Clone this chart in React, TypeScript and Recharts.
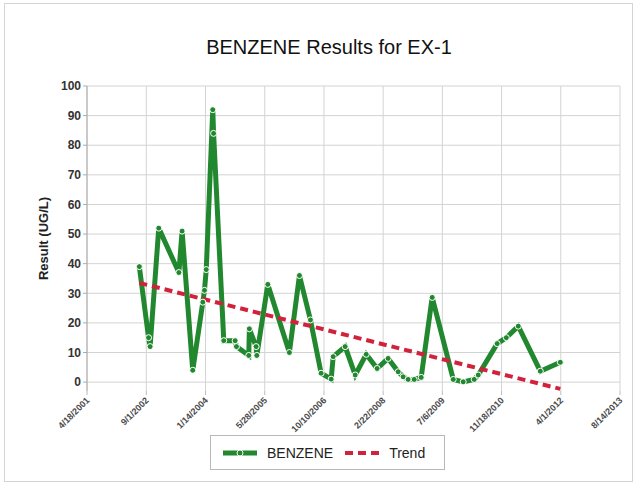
import { LineChart, Line, XAxis, YAxis, CartesianGrid } from 'recharts';

const sampleDates = [
  '7/4/2002', '9/20/2002', '10/3/2002', '12/15/2002', '6/3/2003', '6/30/2003', '9/28/2003',
  '12/22/2003', '1/5/2004', '1/20/2004', '3/15/2004', '3/22/2004', '6/16/2004', '9/20/2004',
  '10/1/2004', '1/13/2005', '1/18/2005', '3/16/2005', '3/22/2005', '6/23/2005', '12/22/2005',
  '3/17/2006', '6/18/2006', '9/16/2006', '12/10/2006', '12/27/2006', '4/7/2007', '7/1/2007',
  '10/2/2007', '1/2/2008', '4/4/2008', '6/28/2008', '8/9/2008', '9/20/2008', '11/10/2008',
  '1/8/2009', '4/11/2009', '10/6/2009', '12/29/2009', '4/1/2010', '5/5/2010', '10/12/2010',
  '12/28/2010', '4/8/2011', '10/11/2011', '3/28/2012',
];
const benzene = [
  39, 15, 12, 52, 37, 51, 4,
  27, 31, 38, 92, 84, 14, 14,
  12, 9, 18, 12, 9, 33, 10,
  36, 21, 3, 1, 8.6, 12, 2.4,
  9.4, 4.6, 8, 3.5, 1.8, 0.9, 0.9,
  1.6, 28.6, 0.9, 0.1, 0.9, 2.4, 13,
  15, 18.9, 3.7, 6.7,
];
const trendDates = ['7/4/2002', '3/28/2012'];
const trendValues = [33.5, -2.3];

const xTickLabels = [
  '4/18/2001', '9/1/2002', '1/14/2004', '5/28/2005', '10/10/2006',
  '2/22/2008', '7/6/2009', '11/18/2010', '4/1/2012', '8/14/2013',
];
const yTicks = [0, 10, 20, 30, 40, 50, 60, 70, 80, 90, 100];

const GREEN = '#22882f';
const RED = '#d2213d';
const FONT = 'Arial, "Liberation Sans", sans-serif';

const toTime = (s: string) => {
  const [m, d, y] = s.split('/').map(Number);
  return Date.UTC(y, m - 1, d);
};

const benzeneData = sampleDates.map((d, i) => ({ t: toTime(d), v: benzene[i] }));
const trendData = trendDates.map((d, i) => ({ t: toTime(d), v: trendValues[i] }));
const xTicks = xTickLabels.map(toTime);

const XTick = ({ x, y, payload }: any) => {
  const i = xTicks.indexOf(payload.value);
  return (
    <g transform={`translate(${x + 3},${y + 4})`}>
      <text transform="rotate(-45)" textAnchor="end" fontSize={9} fontWeight="bold" fill="#4a4a4a" fontFamily={FONT}>
        {xTickLabels[i]}
      </text>
    </g>
  );
};

export default function App() {
  return (
    <div style={{ position: 'absolute', left: 0, top: 0, width: 638, height: 485, background: '#fff' }}>
      <div style={{ position: 'absolute', left: 4, top: 3, width: 627, height: 477, border: '1px solid #d4d4d4' }} />
      <div
        style={{
          position: 'absolute', left: 129, top: 36, width: 400, textAlign: 'center',
          fontFamily: FONT, fontSize: 20, color: '#111',
        }}
      >
        BENZENE Results for EX-1
      </div>
      <div style={{ position: 'absolute', left: 0, top: 0 }}>
        <LineChart width={638} height={485} margin={{ top: 86, right: 18, bottom: 54, left: 36 }}>
          <CartesianGrid stroke="#d3d3d3" verticalValues={xTicks} horizontalValues={yTicks} />
          <XAxis
            type="number"
            dataKey="t"
            height={40}
            domain={[xTicks[0], xTicks[xTicks.length - 1]]}
            ticks={xTicks}
            allowDataOverflow
            axisLine={false}
            tickLine={{ stroke: '#bbb' }}
            tickSize={4}
            tick={<XTick />}
            interval={0}
          />
          <YAxis
            type="number"
            width={51}
            domain={[-3, 100]}
            ticks={yTicks}
            allowDataOverflow
            interval={0}
            axisLine={{ stroke: '#aaa' }}
            tickLine={{ stroke: '#aaa' }}
            tickSize={4}
            tick={{ fontSize: 12, fontWeight: 'bold', fill: '#333', fontFamily: FONT }}
            label={{
              value: 'Result (UG/L)', angle: -90, position: 'insideLeft', offset: 7,
              style: { fontSize: 13, fontWeight: 'bold', fill: '#222', fontFamily: FONT, textAnchor: 'middle' },
            }}
          />
          <Line
            data={benzeneData}
            dataKey="v"
            name="BENZENE"
            type="linear"
            stroke={GREEN}
            strokeWidth={5}
            dot={{ r: 3, fill: GREEN, stroke: '#fff', strokeWidth: 1 }}
            isAnimationActive={false}
          />
          <Line
            data={trendData}
            dataKey="v"
            name="Trend"
            type="linear"
            stroke={RED}
            strokeWidth={4}
            strokeDasharray="8 5"
            dot={false}
            isAnimationActive={false}
          />
        </LineChart>
      </div>
      <div
        style={{
          position: 'absolute', left: 210, top: 435, width: 233, height: 33,
          border: '1px solid #b8b8b8', fontFamily: FONT, fontSize: 14, color: '#222',
          display: 'flex', alignItems: 'center',
        }}
      >
        <svg width={34} height={8} style={{ marginLeft: 12 }}>
          <line x1={0} y1={4} x2={34} y2={4} stroke={GREEN} strokeWidth={5} />
          <circle cx={17} cy={4} r={3} fill={GREEN} stroke="#fff" strokeWidth={1} />
        </svg>
        <span style={{ marginLeft: 10 }}>BENZENE</span>
        <svg width={34} height={8} style={{ marginLeft: 12 }}>
          <line x1={0} y1={4} x2={34} y2={4} stroke={RED} strokeWidth={4} strokeDasharray="8 5" />
        </svg>
        <span style={{ marginLeft: 10 }}>Trend</span>
      </div>
    </div>
  );
}
